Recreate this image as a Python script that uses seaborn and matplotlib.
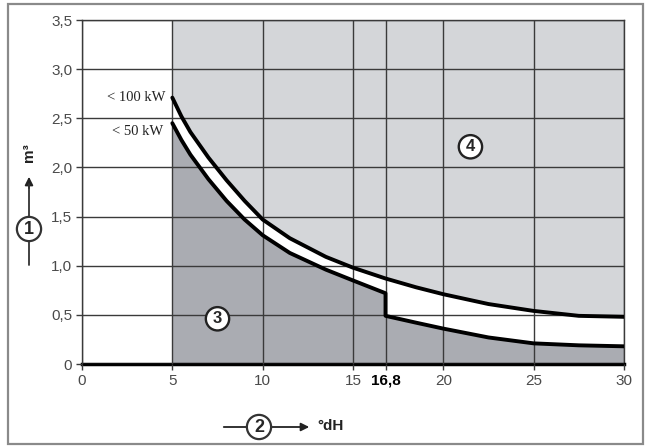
import numpy as np
import pandas as pd
import matplotlib
matplotlib.use("Agg")
import matplotlib.pyplot as plt
import seaborn as sns
from matplotlib.patches import Rectangle

# curve values (x in °dH, y in m3)
upper_x = [5, 5.5, 6, 7, 8, 9, 10, 11.5, 13.5, 15, 16.8, 18.5, 20, 22.5, 25, 27.5, 30]
upper_y = [2.71, 2.52, 2.36, 2.10, 1.87, 1.66, 1.47, 1.28, 1.09, 0.98, 0.87, 0.78, 0.71, 0.61, 0.54, 0.49, 0.48]
lower_x = [5, 5.5, 6, 7, 8, 9, 10, 11.5, 13.5, 15, 16.8, 16.8, 18.5, 20, 22.5, 25, 27.5, 30]
lower_y = [2.45, 2.28, 2.13, 1.88, 1.66, 1.47, 1.31, 1.13, 0.96, 0.85, 0.72, 0.49, 0.42, 0.36, 0.27, 0.21, 0.19, 0.18]
x_ticks = [0, 5, 10, 15, 16.8, 20, 25, 30]
x_labels = ["0", "5", "10", "15", "16,8", "20", "25", "30"]
y_ticks = [0, 0.5, 1.0, 1.5, 2.0, 2.5, 3.0, 3.5]
y_labels = ["0", "0,5", "1,0", "1,5", "2,0", "2,5", "3,0", "3,5"]
curve_names = ["< 100 kW", "< 50 kW"]

sns.set_theme(style="white")
plt.rcParams['font.family'] = ['Liberation Sans', 'DejaVu Sans']

df = pd.concat([
    pd.DataFrame({"x": upper_x, "y": upper_y, "kw": curve_names[0]}),
    pd.DataFrame({"x": lower_x, "y": lower_y, "kw": curve_names[1]}),
])

fig = plt.figure(figsize=(6.45, 4.46), dpi=100)
ax = fig.add_axes([82 / 645, 82 / 446, 542 / 645, 344 / 446])

# shaded zones
ax.fill_between(upper_x, upper_y, 3.5, color="#d4d6d9", lw=0, zorder=0)
ax.fill_between(lower_x, 0, lower_y, color="#aaacb2", lw=0, zorder=0)

ax.set_xlim(0, 30)
ax.set_ylim(0, 3.5)
ax.set_xticks(x_ticks)
ax.set_xticklabels(x_labels)
ax.set_yticks(y_ticks)
ax.set_yticklabels(y_labels)
ax.grid(True, color="#3a3a3a", lw=1.0, zorder=1)
ax.set_axisbelow(False)

sns.lineplot(data=df, x="x", y="y", units="kw", estimator=None, sort=False,
             color="black", lw=2.8, ax=ax, zorder=3,
             solid_joinstyle="round", solid_capstyle="round")
ax.set_xlabel("")
ax.set_ylabel("")

for s in ["left", "top", "right"]:
    ax.spines[s].set_color("#3a3a3a")
    ax.spines[s].set_linewidth(1.0)
ax.spines["bottom"].set_color("black")
ax.spines["bottom"].set_linewidth(2.5)

ax.tick_params(axis="both", which="both", direction="out", length=4, width=1,
               color="#3a3a3a", labelsize=11, labelcolor="#4a4a4a", pad=3,
               left=True, bottom=True)
for lab in ax.get_xticklabels():
    if lab.get_text() == "16,8":
        lab.set_fontweight("bold")
        lab.set_color("black")

# curve labels
serif = ['Liberation Serif', 'DejaVu Serif']
ax.text(4.6, upper_y[0], curve_names[0], ha="right", va="center", fontsize=10.5,
        family=serif, color="#222222")
ax.text(4.5, 2.37, curve_names[1], ha="right", va="center", fontsize=10.5,
        family=serif, color="#222222")

circ = dict(boxstyle="circle,pad=0.25", fc="white", ec="#222222", lw=1.7)
ax.text(7.5, 0.46, "3", ha="center", va="center", fontsize=12, fontweight="bold",
        bbox=circ, zorder=5)
ax.text(21.5, 2.21, "4", ha="center", va="center", fontsize=12, fontweight="bold",
        bbox=circ, zorder=5)

# y axis caption: arrow, circled 1, m3
fig.add_artist(plt.Line2D([29 / 645, 29 / 645], [181 / 446, 262 / 446],
                          color="#333333", lw=1.3))
ax.annotate("", xy=(29, 272), xytext=(29, 255), xycoords="figure pixels",
            textcoords="figure pixels",
            arrowprops=dict(arrowstyle="-|>", color="#222222", lw=1.3,
                            mutation_scale=12))
fig.text(29 / 645, 217 / 446, "1", ha="center", va="center", fontsize=13,
         fontweight="bold", bbox=dict(boxstyle="circle,pad=0.2", fc="white",
                                      ec="#333333", lw=1.6))
fig.text(29 / 645, 293 / 446, "m³", ha="center", va="center", fontsize=11,
         fontweight="bold", rotation=90, color="#222222")

# x axis caption: arrow, circled 2, °dH
ax.annotate("", xy=(312, 19), xytext=(221, 19), xycoords="figure pixels",
            textcoords="figure pixels",
            arrowprops=dict(arrowstyle="-|>", color="#222222", lw=1.3,
                            mutation_scale=12))
fig.text(259 / 645, 19 / 446, "2", ha="center", va="center", fontsize=13,
         fontweight="bold", bbox=dict(boxstyle="circle,pad=0.2", fc="white",
                                      ec="#333333", lw=1.6))
fig.text(317 / 645, 20 / 446, "°dH", ha="left", va="center", fontsize=11,
         fontweight="bold", color="#222222")

# outer frame
fig.add_artist(Rectangle((7.5 / 645, 2 / 446), 635 / 645, 440 / 446,
                         transform=fig.transFigure, fill=False,
                         ec="#8a8a8a", lw=1.6))

fig.savefig("out.png", dpi=100)
